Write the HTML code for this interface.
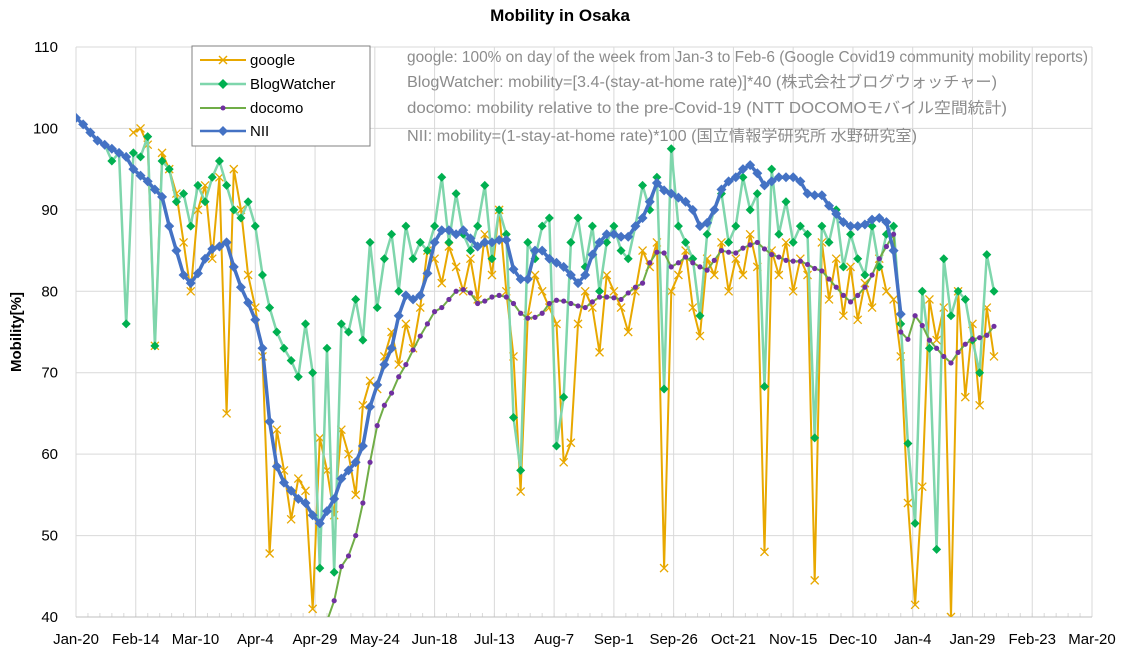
<!DOCTYPE html>
<html><head><meta charset="utf-8"><style>
html,body{margin:0;padding:0;background:#fff;}
svg{display:block;font-family:"Liberation Sans","Noto Sans CJK JP",sans-serif;}
</style></head><body>
<svg id="chart" width="1126" height="659" viewBox="0 0 1126 659" xmlns="http://www.w3.org/2000/svg">
<text x="560" y="21" text-anchor="middle" font-size="17" font-weight="bold" fill="#000">Mobility in Osaka</text>
<text transform="translate(21,332) rotate(-90)" text-anchor="middle" font-size="15" font-weight="bold" fill="#000">Mobility[%]</text>
<g id="grid"></g>
<g id="yticks"></g>
<g id="xticks"></g>
<defs><clipPath id="pc"><rect x="76" y="44" width="1016" height="573"/></clipPath></defs>
<g id="series" clip-path="url(#pc)"></g>
<g>
<rect x="192" y="46" width="178" height="100" fill="#fff" stroke="#808080" stroke-width="1"/>
<g>
<line x1="200" y1="60" x2="246" y2="60" stroke="#e8a800" stroke-width="2"/>
<path d="M219,56 l8,8 M227,56 l-8,8" stroke="#e8a800" stroke-width="1.5"/>
<text x="250" y="65" font-size="15" fill="#000">google</text></g>
<g>
<line x1="200" y1="84" x2="246" y2="84" stroke="#7fd6ac" stroke-width="2.5"/>
<path d="M223,79 l5,5 l-5,5 l-5,-5z" fill="#00b050"/>
<text x="250" y="89" font-size="15" fill="#000">BlogWatcher</text></g>
<g>
<line x1="200" y1="108" x2="246" y2="108" stroke="#70ad47" stroke-width="2"/>
<circle cx="223" cy="108" r="2.5" fill="#7030a0"/>
<text x="250" y="113" font-size="15" fill="#000">docomo</text></g>
<g>
<line x1="200" y1="131" x2="246" y2="131" stroke="#4472c4" stroke-width="2.5"/>
<path d="M223,126 l5,5 l-5,5 l-5,-5z" fill="#4472c4"/>
<text x="250" y="136" font-size="15" fill="#000">NII</text></g>
</g>
<g font-size="15.5" fill="#8c8c8c">
<text x="407" y="62" textLength="681" lengthAdjust="spacingAndGlyphs">google: 100% on day of the week from Jan-3 to Feb-6 (Google Covid19 community mobility reports)</text>
<text x="407" y="87" textLength="590" lengthAdjust="spacingAndGlyphs">BlogWatcher: mobility=[3.4-(stay-at-home rate)]*40 (株式会社ブログウォッチャー)</text>
<text x="407" y="113" textLength="600" lengthAdjust="spacingAndGlyphs">docomo: mobility relative to the pre-Covid-19 (NTT DOCOMOモバイル空間統計)</text>
<text x="407" y="141" textLength="510" lengthAdjust="spacingAndGlyphs">NII: mobility=(1-stay-at-home rate)*100 (国立情報学研究所 水野研究室)</text>
</g>
</svg>
<script>
const xLabels=["Jan-20","Feb-14","Mar-10","Apr-4","Apr-29","May-24","Jun-18","Jul-13","Aug-7","Sep-1","Sep-26","Oct-21","Nov-15","Dec-10","Jan-4","Jan-29","Feb-23","Mar-20"];
const yTicks=[40,50,60,70,80,90,100,110];
const dayStep=3;
const niiStart=0;
const niiValues=[101.3,100.5,99.5,98.5,98,97.5,97,96.5,95,94.2,93.5,92.5,91.6,88,85,82,81,82.2,84,85.2,85.5,86,83,80.5,78.6,76.5,73,64,58.5,56.5,55.5,54.5,54,52.5,51.5,53,54.5,57,58,59,61,65.8,68.5,71,73,77,79.5,79,79.5,82.2,86,87.5,87.5,87,87.5,86.5,85.5,86,86,86.3,86.3,82.7,81.5,81.5,85,85,84,83.5,83,82,81,82,84.5,86,87,87,86.7,86.7,88,89,91,93.3,92.4,92,91.5,91,90,88,88.4,90,92.5,93.5,94,95,95.5,94.5,93,93.5,94,94,94,93.5,92,91.8,91.8,90.5,89.5,88.5,88,88,88.2,88.8,89,88.5,85,77.2];
const docomoStart=105;
const docomoValues=[39.5,42,46.2,47.5,50,54,59,63.5,66,67.5,69.5,71,72.8,74.5,76,77.5,78,79,80,80.2,79.8,78.5,78.8,79.3,79.5,79.3,78.5,77.3,76.7,76.8,77.3,78.5,78.9,78.8,78.5,78.2,78,78.7,79.3,79.3,79.2,79,79.8,80.5,81,83.5,84.8,84.7,83,83.5,84.2,83.5,83,82.6,83.8,85,84.8,84.7,85.3,85.7,86,85.2,84.5,84.2,83.8,83.7,83.7,83.3,82.8,82.5,81.5,80.5,79.5,78.7,79.5,80.5,82,84,85.5,87,75,74.1,77,75.8,74,73,72,71.2,72.5,73.5,74.1,74.3,74.6,75.7];
const googleStart=24;
const googleValues=[99.5,100,98,73.3,97,95,92,86,80,90,93,84,94,65,95,90,82,78,72,47.8,63,58,52,57,55.5,41,62,58,52.5,63,60,55,66,69,68,72,75,71,76,73,78,85,84,81,85.5,83,80,84,79,87,82,90,80,72,55.4,77,82,80,78,76,59,61.4,76,80,78,72.5,82,80,78,75,80,85,83,86,46,80,82,85,78,74.5,84,82,86,80,84,82,87,83,48,85,82,86,80,84,82,44.5,86,79,84,77,83,76.5,81,78,84,80,79,72,54,41.5,56,79,74,78,40,80,67,76,66,78,72];
const blogStart=12;
const blogValues=[98,96,97,76,97,96.5,99,73.3,96,95,91,92,88,93,91,94,96,93,90,89,91,88,82,78,75,73,71.5,69.5,76,70,46,73,45.5,76,75,79,74,86,78,84,87,80,88,84,86,85,88,94,86,92,87,85,88,93,84,90,87,64.5,58,86,84,88,89,61,67,86,89,83,88,80,86,88,85,84,88,93,90,94,68,97.5,88,86,84,77,87,90,92,86,88,94,90,92,68.3,95,87,91,86,88,87,62,88,86,90,83,87,84,82,88,83,87,88,76,61.3,51.5,80,73,48.3,84,77,80,79,74,70,84.5,80];

const NS="http://www.w3.org/2000/svg";
const X0=76,X1=1092,Y0=617,Y1=47,DMAX=425;
function xs(d){return X0+(X1-X0)*d/DMAX;}
function ys(v){return Y0-(Y0-Y1)*(v-40)/70;}
function mk(tag,attrs,parent){const e=document.createElementNS(NS,tag);for(const k in attrs)e.setAttribute(k,attrs[k]);parent.appendChild(e);return e;}
const grid=document.getElementById('grid'),yt=document.getElementById('yticks'),xt=document.getElementById('xticks'),ser=document.getElementById('series');
yTicks.forEach(v=>{
  const l=mk('line',{x1:X0,x2:X1,y1:ys(v),y2:ys(v),stroke:'#d9d9d9','stroke-width':1},grid);
  
  
  const t=mk('text',{x:58,y:ys(v)+5,'text-anchor':'end','font-size':15,fill:'#000'},yt);
  t.textContent=v;
  
  
});
xLabels.forEach((s,i)=>{
  const x=xs(i*25);
  const l=mk('line',{x1:x,x2:x,y1:Y1,y2:Y0,stroke:'#d9d9d9','stroke-width':1},grid);
  
  
  const t=mk('text',{x:x,y:644,'text-anchor':'middle','font-size':15,fill:'#000'},xt);
  t.textContent=s;
  
  
});
for(let d=0;d<=DMAX;d+=5){mk('line',{x1:xs(d),x2:xs(d),y1:Y0,y2:Y0-4,stroke:'#d9d9d9','stroke-width':1},grid);}
mk('line',{x1:X0,x2:X1,y1:Y0,y2:Y0,stroke:'#bfbfbf','stroke-width':1},grid);

function drawSeries(name,start,vals,lineColor,lw,marker,mColor,ms){
  const g=mk('g',{},ser);
  
  
  const pts=vals.map((v,i)=>xs(start+i*dayStep).toFixed(1)+','+ys(v).toFixed(1)).join(' ');
  const pl=mk('polyline',{points:pts,fill:'none',stroke:lineColor,'stroke-width':lw,'stroke-linejoin':'round'},g);
  
  
  vals.forEach((v,i)=>{
    const x=xs(start+i*dayStep),y=ys(v);let m;
    if(marker==='x')m=mk('path',{d:`M${x-ms},${y-ms} L${x+ms},${y+ms} M${x+ms},${y-ms} L${x-ms},${y+ms}`,stroke:mColor,'stroke-width':1.3,fill:'none'},g);
    else if(marker==='d')m=mk('path',{d:`M${x},${y-ms} L${x+ms},${y} L${x},${y+ms} L${x-ms},${y}Z`,fill:mColor},g);
    else m=mk('circle',{cx:x,cy:y,r:ms,fill:mColor},g);
    
    
  });
}
drawSeries('google',googleStart,googleValues,'#e8a800',2,'x','#e8a800',4);
drawSeries('blogwatcher',blogStart,blogValues,'#7fd6ac',2.5,'d','#00b050',4.5);
drawSeries('docomo',docomoStart,docomoValues,'#70ad47',2,'c','#7030a0',2.6);
drawSeries('nii',niiStart,niiValues,'#4472c4',3.5,'d','#4472c4',5);
</script>
</body></html>
